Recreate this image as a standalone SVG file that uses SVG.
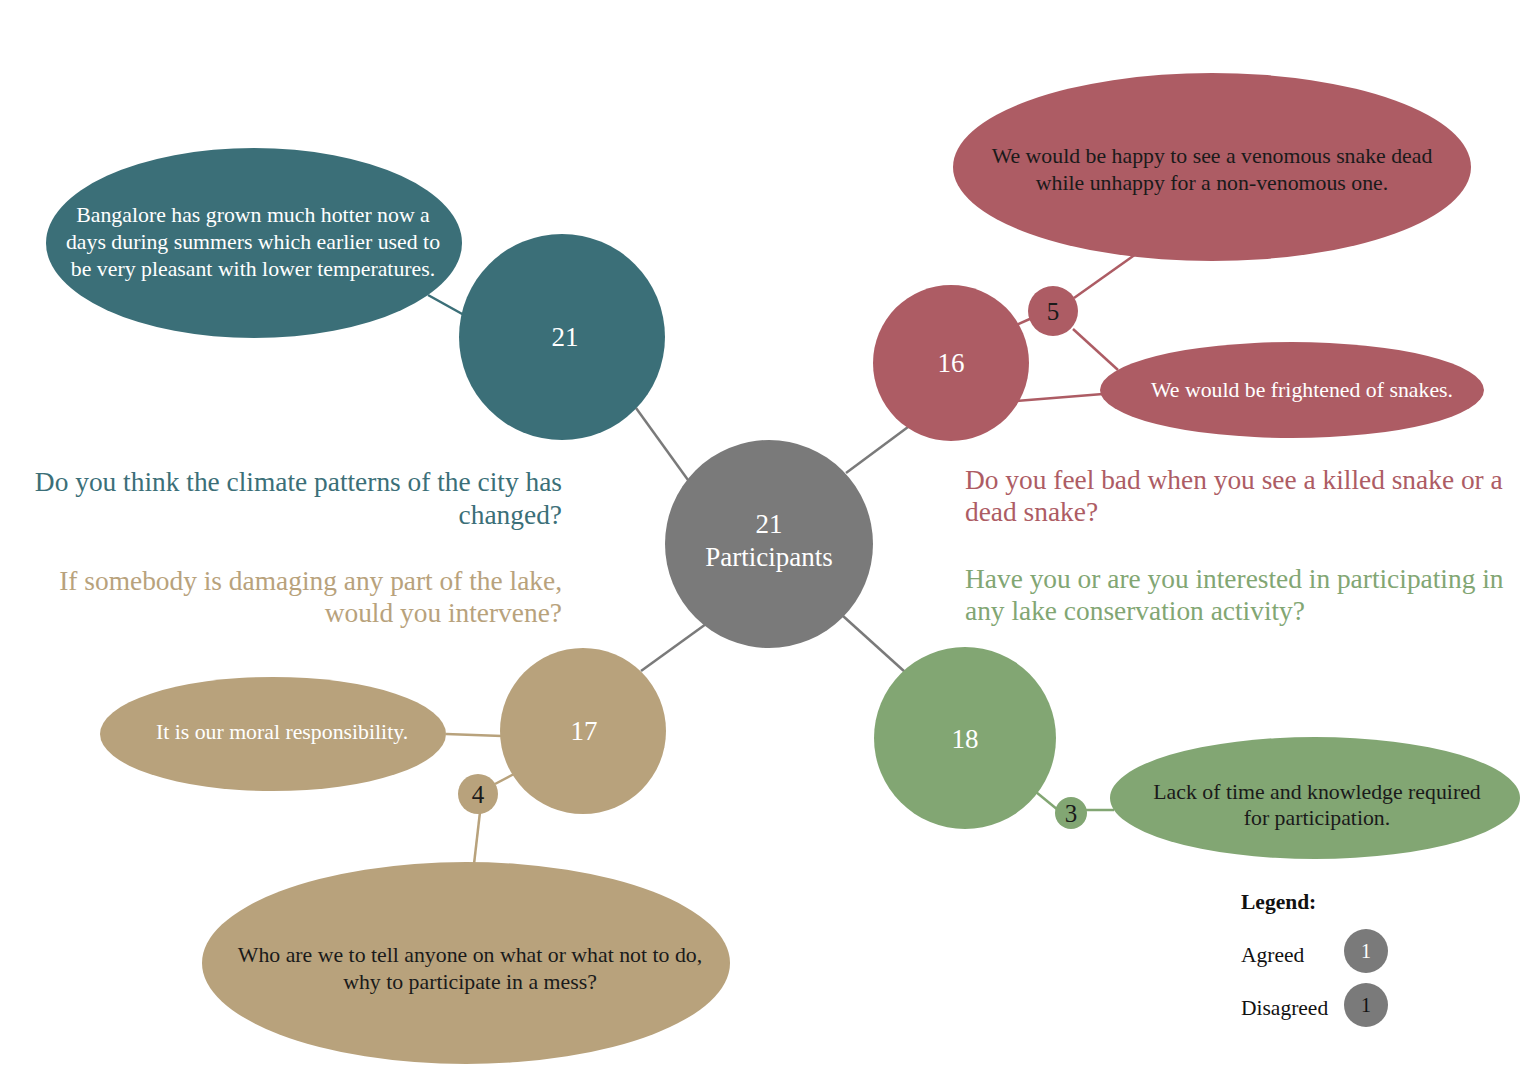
<svg xmlns="http://www.w3.org/2000/svg" width="1538" height="1088" viewBox="0 0 1538 1088">
<style>
text{font-family:"Liberation Serif","Times New Roman",serif}
.teal{fill:#3b6f78}.red{fill:#ad5c64}.tan{fill:#b8a27c}.green{fill:#82a673}.gray{fill:#7a7a7a}
.num{font-size:27px;fill:#fff;text-anchor:middle}
.snum{font-size:25px;fill:#1a1a1a;text-anchor:middle}
.et{font-size:21.8px;text-anchor:middle}
.w{fill:#fff}.k{fill:#1a1a1a}
.q{font-size:27.4px}
.lt{stroke-width:2.5;fill:none}
.lg{font-size:21.5px;fill:#111}
</style>
<rect width="1538" height="1088" fill="#fff"/>
<g id="connectors" class="lt">
<line x1="636" y1="408" x2="688" y2="480" stroke="#7a7a7a"/>
<line x1="846" y1="473" x2="908" y2="427" stroke="#7a7a7a"/>
<line x1="706" y1="624" x2="641" y2="671" stroke="#7a7a7a"/>
<line x1="843" y1="616" x2="905" y2="672" stroke="#7a7a7a"/>
<line x1="428" y1="295" x2="464" y2="315" stroke="#3b6f78"/>
<line x1="1016" y1="325" x2="1032" y2="318" stroke="#ad5c64"/>
<line x1="1074" y1="298" x2="1136" y2="254" stroke="#ad5c64"/>
<line x1="1073" y1="329" x2="1118" y2="370" stroke="#ad5c64"/>
<line x1="1016" y1="401" x2="1103" y2="394" stroke="#ad5c64"/>
<line x1="446" y1="734" x2="502" y2="736" stroke="#b8a27c"/>
<line x1="514" y1="774" x2="495" y2="784" stroke="#b8a27c"/>
<line x1="480" y1="812" x2="474" y2="864" stroke="#b8a27c"/>
<line x1="1036" y1="792" x2="1058" y2="810" stroke="#82a673"/>
<line x1="1085" y1="810" x2="1114" y2="810" stroke="#82a673"/>
</g>
<g id="center"><circle cx="769" cy="544" r="104" class="gray"/><text x="769" y="533" class="num">21</text><text x="769" y="566" class="num">Participants</text></g>
<g id="teal-circle"><circle cx="562" cy="337" r="103" class="teal"/><text x="565" y="346" class="num">21</text></g>
<g id="teal-ellipse"><ellipse cx="254" cy="243" rx="208" ry="95" class="teal"/>
<text class="et w"><tspan x="253" y="222">Bangalore has grown much hotter now a</tspan><tspan x="253" y="249">days during summers which earlier used to</tspan><tspan x="253" y="276">be very pleasant with lower temperatures.</tspan></text></g>
<g id="red-circle"><circle cx="951" cy="363" r="78" class="red"/><text x="951" y="372" class="num">16</text></g>
<g id="red-small"><circle cx="1053" cy="311" r="25" class="red"/><text x="1053" y="320" class="snum">5</text></g>
<g id="red-ellipse-top"><ellipse cx="1212" cy="167" rx="259" ry="94" class="red"/>
<text class="et k"><tspan x="1212" y="163">We would be happy to see a venomous snake dead</tspan><tspan x="1212" y="190">while unhappy for a non-venomous one.</tspan></text></g>
<g id="red-ellipse-bottom"><ellipse cx="1292" cy="390" rx="192" ry="48" class="red"/>
<text x="1302" y="397" class="et w">We would be frightened of snakes.</text></g>
<g id="tan-circle"><circle cx="583" cy="731" r="83" class="tan"/><text x="584" y="740" class="num">17</text></g>
<g id="tan-small"><circle cx="478" cy="794" r="20" class="tan"/><text x="478" y="803" class="snum">4</text></g>
<g id="tan-ellipse-left"><ellipse cx="273" cy="734" rx="173" ry="57" class="tan"/>
<text x="282" y="739" class="et w">It is our moral responsibility.</text></g>
<g id="tan-ellipse-bottom"><ellipse cx="466" cy="963" rx="264" ry="101" class="tan"/>
<text class="et k"><tspan x="470" y="962">Who are we to tell anyone on what or what not to do,</tspan><tspan x="470" y="989">why to participate in a mess?</tspan></text></g>
<g id="green-circle"><circle cx="965" cy="738" r="91" class="green"/><text x="965" y="748" class="num">18</text></g>
<g id="green-small"><circle cx="1071" cy="813" r="16" class="green"/><text x="1071" y="822" class="snum">3</text></g>
<g id="green-ellipse"><ellipse cx="1315" cy="798" rx="205" ry="61" class="green"/>
<text class="et k"><tspan x="1317" y="799">Lack of time and knowledge required</tspan><tspan x="1317" y="825">for participation.</tspan></text></g>
<g id="questions">
<text class="q teal" text-anchor="end"><tspan x="562" y="491">Do you think the climate patterns of the city has</tspan><tspan x="562" y="524">changed?</tspan></text>
<text class="q tan" text-anchor="end"><tspan x="562" y="590">If somebody is damaging any part of the lake,</tspan><tspan x="562" y="622">would you intervene?</tspan></text>
<text class="q red"><tspan x="965" y="489">Do you feel bad when you see a killed snake or a</tspan><tspan x="965" y="521">dead snake?</tspan></text>
<text class="q green"><tspan x="965" y="588">Have you or are you interested in participating in</tspan><tspan x="965" y="620">any lake conservation activity?</tspan></text>
</g>
<g id="legend">
<text x="1241" y="909" class="lg" font-weight="bold">Legend:</text>
<text x="1241" y="962" class="lg">Agreed</text>
<circle cx="1366" cy="951" r="22" class="gray"/><text x="1366" y="958" font-size="20" fill="#fff" text-anchor="middle">1</text>
<text x="1241" y="1015" class="lg">Disagreed</text>
<circle cx="1366" cy="1005" r="22" class="gray"/><text x="1366" y="1012" font-size="20" fill="#111" text-anchor="middle">1</text>
</g>
</svg>
